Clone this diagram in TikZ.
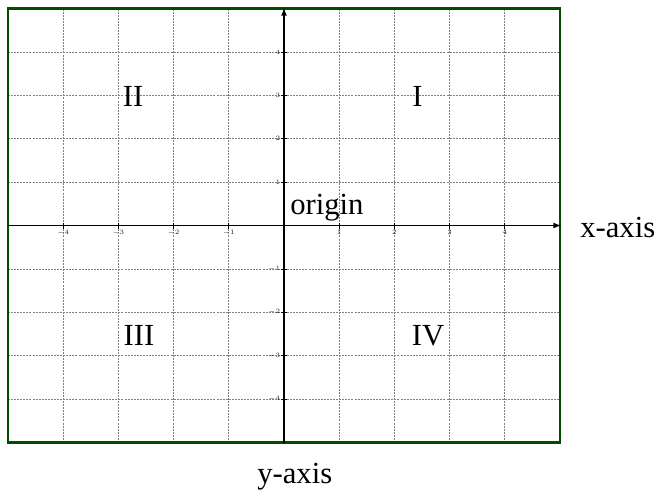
\documentclass[tikz,border=0pt]{standalone}
\usepackage{fontspec}
\setmainfont{Liberation Serif}
\begin{document}
\begin{tikzpicture}[x=0.75pt,y=-0.75pt,
  gridline/.style={draw=gray, line width=0.6pt, dash pattern=on 1.5pt off 0.8pt},
  frame/.style={draw=black!50!green!60!black, line width=1.6pt},
  axisline/.style={draw=black, line width=1pt},
  ticklabel/.style={font=\fontsize{5.5}{6}\selectfont, text=black!85, inner sep=0.5pt},
  biglabel/.style={font=\fontsize{23}{27}\selectfont, inner sep=0pt}]
\useasboundingbox (0,0) rectangle (662,496);
% grid
\foreach \i in {-4,-3,-2,-1,1,2,3,4}{
  \draw[gridline] (284+55.2*\i,8.5) -- (284+55.2*\i,442.5);
  \draw[gridline] (8,225.5-43.4*\i) -- (560,225.5-43.4*\i);
}
% frame
\draw[frame] (8,8.5) rectangle (560,442.5);
% axes
\coordinate (xl) at (8,225.5);
\coordinate (xr) at (561,225.5);
\coordinate (yb) at (284,442.5);
\coordinate (yt) at (284,8);
\draw[axisline,-latex] (xl) -- (xr);
\draw[axisline,-latex] (yb) -- (yt);
% ticks and tick labels
\foreach \i in {-4,-3,-2,-1,1,2,3,4}{
  \draw[black, line width=0.5pt] (284+55.2*\i,222.5) -- (284+55.2*\i,228.5);
  \node[ticklabel, anchor=north] (tx\i) at (284+55.2*\i,229) {$\i$};
  \draw[black, line width=0.5pt] (281,225.5-43.4*\i) -- (287,225.5-43.4*\i);
  \node[ticklabel, anchor=east] (ty\i) at (281,225.5-43.4*\i) {$\i$};
}
% labels
\node[biglabel, anchor=base] (q2) at (133,106) {II};
\node[biglabel, anchor=base] (q1) at (417.5,106) {I};
\node[biglabel, anchor=base] (q3) at (139,345) {III};
\node[biglabel, anchor=base] (q4) at (428,345) {IV};
\node[biglabel, anchor=base west] (orig) at (290,214) {origin};
\node[biglabel, anchor=base west] (xlab) at (580,237) {x-axis};
\node[biglabel, anchor=base west] (ylab) at (257,483) {y-axis};
\end{tikzpicture}
\end{document}
